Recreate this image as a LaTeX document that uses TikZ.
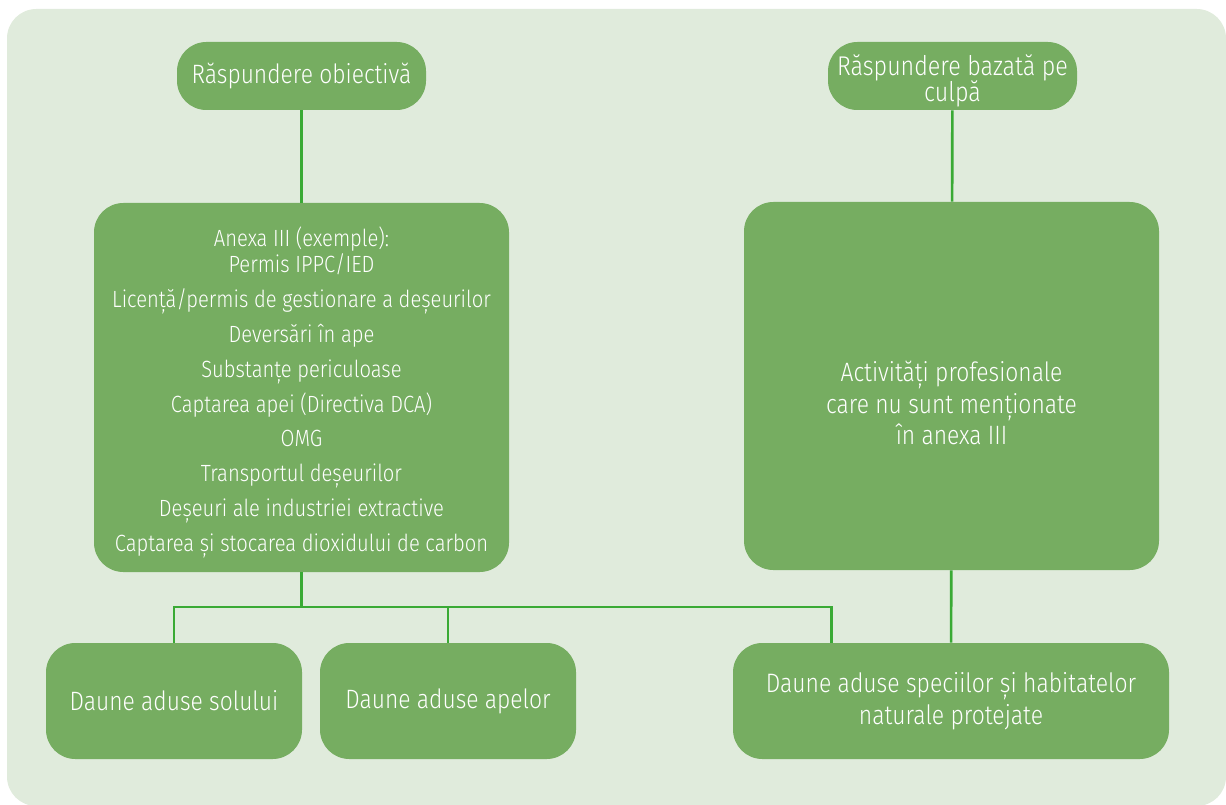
\documentclass[tikz,border=0pt]{standalone}
\usepackage{fontspec}
\setmainfont{Fira Sans Light}[FakeStretch=0.86]
\definecolor{bgc}{RGB}{224,235,220}
\definecolor{boxc}{RGB}{118,173,97}
\definecolor{linec}{RGB}{58,170,53}
\tikzset{
  box/.style={shape=rectangle,fill=boxc,text=white,rounded corners=22pt,align=center,inner sep=0pt},
  link/.style={draw=linec,line width=2pt}
}
\begin{document}
\begin{tikzpicture}[x=0.75pt,y=-0.75pt]
\useasboundingbox (0,0) rectangle (1226,805);
\fill [bgc,rounded corners=22pt] (7,9) rectangle (1226,806);
\node (A) at (301.5,76) [box,minimum width=186.75pt,minimum height=51pt,font=\fontsize{19.9}{24}\selectfont]{Răspundere obiectivă};
\node (B) at (952.5,76) [box,minimum width=186.75pt,minimum height=51pt,font=\fontsize{20.3}{24}\selectfont]{\raisebox{-9.8pt}[0pt][0pt]{\begin{tabular}{@{}c@{}}Răspundere bazată pe\\[-5pt]culpă\end{tabular}}};
\node (C) at (301.5,387.5) [box,minimum width=311.25pt,minimum height=276.75pt,font=\fontsize{17.6}{26.1}\selectfont]{\raisebox{-7.8pt}[0pt][0pt]{\begin{tabular}{@{}c@{}}Anexa III (exemple):\\[-6.6pt]Permis IPPC/IED\\Licență/permis de gestionare a deșeurilor\\Deversări în ape\\Substanțe periculoase\\Captarea apei (Directiva DCA)\\OMG\\Transportul deșeurilor\\Deșeuri ale industriei extractive\\Captarea și stocarea dioxidului de carbon\end{tabular}}};
\node (D) at (951.5,386) [box,minimum width=311.25pt,minimum height=276pt,font=\fontsize{19.9}{23.6}\selectfont]{\raisebox{-20.9pt}[0pt][0pt]{\begin{tabular}{@{}c@{}}Activități profesionale\\care nu sunt menționate\\în anexa III\end{tabular}}};
\node (E) at (174,701) [box,minimum width=192pt,minimum height=87pt,font=\fontsize{19.9}{24}\selectfont]{Daune aduse solului};
\node (F) at (448,701) [box,minimum width=192pt,minimum height=87pt,font=\fontsize{19.9}{24}\selectfont]{Daune aduse apelor};
\node (G) at (951,701) [box,minimum width=327pt,minimum height=87pt,font=\fontsize{20}{24}\selectfont]{Daune aduse speciilor și habitatelor\\naturale protejate};
\coordinate (J) at (301.5,607);
\coordinate (K) at ([xshift=74.25pt]G.north west);
\draw [link] (A) to (C);
\draw [link] (B) to (D);
\draw [link] (D) to (G);
\draw [link] (C) to (J);
\draw [link] (E.north) |- (J) -| (K);
\draw [link] (F.north) to (F.north |- J);
\end{tikzpicture}
\end{document}
